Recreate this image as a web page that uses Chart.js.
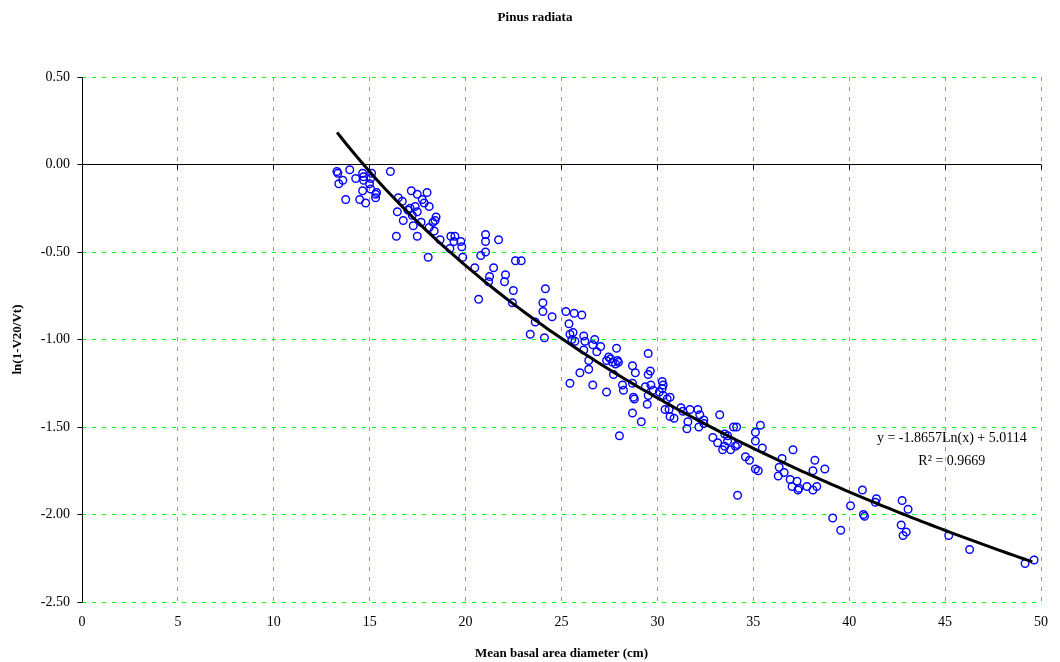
<!DOCTYPE html>
<html>
<head>
<meta charset="utf-8">
<script src="https://cdn.jsdelivr.net/npm/chart.js@4"></script>
<style>
  html, body { margin: 0; padding: 0; background: #fff; }
  canvas { display: block; }
</style>
</head>
<body>
<canvas id="myChart" width="1060" height="662"></canvas>
<script>
// Mean basal area diameter (cm) and ln(1-V20/Vt)
var diameter = [
    13.29, 13.34, 13.96, 13.39, 13.6, 13.75, 14.27, 14.63, 14.68, 14.68,
    15.1, 15.05, 14.99, 14.63, 15.05, 15.36, 15.31, 15.31, 14.48, 14.79,
    16.08, 16.49, 16.7, 16.44, 16.75, 16.39, 17.17, 17.48, 17.99, 17.74,
    17.84, 18.1, 17.37, 17.11, 17.48, 17.22, 18.46, 18.41, 18.3, 17.68,
    17.27, 18.1, 18.36, 17.48, 18.67, 19.23, 19.44, 19.39, 19.75, 19.8,
    19.18, 19.85, 18.05, 21.04, 21.04, 21.72, 21.04, 20.79, 20.48, 21.46,
    22.08, 21.25, 21.2, 22.03, 22.6, 22.9, 22.49, 20.68, 22.44, 24.16,
    24.03, 24.03, 24.51, 23.63, 23.37, 24.11, 25.23, 25.66, 26.06, 25.39,
    25.44, 25.6, 25.54, 25.7, 26.16, 26.22, 26.16, 26.73, 26.63, 27.04,
    26.84, 26.42, 26.42, 25.96, 25.44, 26.63, 27.35, 27.87, 27.46, 27.56,
    27.35, 27.66, 27.92, 27.97, 27.82, 27.71, 28.7, 28.85, 29.52, 29.63,
    29.52, 28.18, 28.23, 28.7, 28.75, 28.8, 28.7, 29.16, 28.02, 29.47,
    29.37, 29.78, 29.52, 30.25, 30.3, 30.25, 30.66, 30.51, 30.4, 30.61,
    30.66, 30.87, 31.23, 31.33, 31.7, 32.11, 32.21, 32.42, 32.42, 31.59,
    31.54, 32.16, 33.25, 32.89, 33.14, 33.51, 33.66, 33.66, 33.51, 33.4,
    33.82, 34.07, 34.18, 33.97, 34.13, 35.11, 35.37, 35.11, 35.47, 34.59,
    34.8, 34.18, 35.11, 35.26, 36.5, 36.35, 36.61, 36.3, 37.07, 36.92,
    37.02, 37.28, 37.33, 37.38, 37.8, 38.11, 38.31, 38.21, 38.11, 38.73,
    40.69, 40.07, 39.14, 40.74, 40.8, 39.56, 41.42, 41.36, 42.76, 43.07,
    42.71, 42.97, 42.81, 45.19, 46.28, 49.17, 49.64, 16.99, 29.66, 30.1,
    30.3
];
var lnRatio = [
    -0.04, -0.05, -0.03, -0.11, -0.09, -0.20, -0.08, -0.05, -0.07, -0.09,
    -0.05, -0.08, -0.11, -0.15, -0.14, -0.16, -0.17, -0.19, -0.20, -0.22,
    -0.04, -0.19, -0.21, -0.27, -0.32, -0.41, -0.15, -0.17, -0.16, -0.20,
    -0.22, -0.24, -0.24, -0.25, -0.27, -0.29, -0.30, -0.32, -0.33, -0.33,
    -0.35, -0.36, -0.38, -0.41, -0.43, -0.41, -0.41, -0.44, -0.44, -0.47,
    -0.48, -0.53, -0.53, -0.40, -0.44, -0.43, -0.50, -0.52, -0.59, -0.59,
    -0.63, -0.64, -0.67, -0.67, -0.55, -0.55, -0.72, -0.77, -0.79, -0.71,
    -0.79, -0.84, -0.87, -0.90, -0.97, -0.99, -0.84, -0.85, -0.86, -0.91,
    -0.97, -0.96, -1.00, -1.01, -0.98, -1.01, -1.06, -1.00, -1.03, -1.04,
    -1.07, -1.12, -1.17, -1.19, -1.25, -1.26, -1.30, -1.05, -1.10, -1.11,
    -1.12, -1.13, -1.12, -1.13, -1.14, -1.20, -1.15, -1.19, -1.08, -1.18,
    -1.20, -1.26, -1.29, -1.25, -1.33, -1.34, -1.42, -1.47, -1.55, -1.37,
    -1.27, -1.29, -1.32, -1.24, -1.26, -1.28, -1.33, -1.34, -1.40, -1.40,
    -1.44, -1.45, -1.39, -1.41, -1.40, -1.40, -1.43, -1.46, -1.48, -1.47,
    -1.51, -1.50, -1.43, -1.56, -1.59, -1.54, -1.55, -1.58, -1.61, -1.63,
    -1.63, -1.61, -1.60, -1.50, -1.50, -1.53, -1.49, -1.58, -1.62, -1.67,
    -1.69, -1.89, -1.74, -1.75, -1.68, -1.73, -1.76, -1.78, -1.63, -1.80,
    -1.84, -1.81, -1.86, -1.85, -1.84, -1.86, -1.84, -1.69, -1.75, -1.74,
    -1.86, -1.95, -2.02, -2.00, -2.01, -2.09, -1.91, -1.93, -1.92, -1.97,
    -2.06, -2.10, -2.12, -2.12, -2.20, -2.28, -2.26, -0.26, -1.26, -1.30,
    -1.32
];

var xTicks = [0, 5, 10, 15, 20, 25, 30, 35, 40, 45, 50];
var yTicks = [-2.5, -2.0, -1.5, -1.0, -0.5, 0.0, 0.5];

// logarithmic trendline as printed on the chart
var trendSlope = -1.8657;
var trendIntercept = 5.0114;
var trendR2 = 0.9669;
var trendFrom = 13.3;
var trendTo = 49.6;

var serif = "'Liberation Serif', 'Times New Roman', serif";

window.onload = function () {
    var scatterPoints = diameter.map(function (d, i) {
        return { x: d, y: lnRatio[i] };
    });

    var trendPoints = [];
    for (var x = trendFrom; x <= trendTo + 1e-9; x += 0.25) {
        trendPoints.push({ x: x, y: trendSlope * Math.log(x) + trendIntercept });
    }

    // same rounding Chart.js uses for 1px lines
    function crisp(p) {
        return Math.round(p - 0.5) + 0.5;
    }

    // black axis lines: y axis at x = 0 and x axis at y = 0 with small tick marks
    var axisLines = {
        id: 'axisLines',
        beforeDatasetsDraw: function (chart) {
            var c = chart.ctx;
            var area = chart.chartArea;
            var xs = chart.scales.x, ys = chart.scales.y;
            var y0 = crisp(ys.getPixelForValue(0));
            var x0 = crisp(xs.getPixelForValue(0));
            c.save();
            c.strokeStyle = '#000';
            c.lineWidth = 1;
            c.setLineDash([]);
            c.beginPath();
            c.moveTo(area.left, y0);
            c.lineTo(area.right, y0);
            c.moveTo(x0, area.top);
            c.lineTo(x0, area.bottom);
            xTicks.forEach(function (t) {
                var px = crisp(xs.getPixelForValue(t));
                c.moveTo(px, y0);
                c.lineTo(px, y0 + 5);
            });
            yTicks.forEach(function (t) {
                var py = crisp(ys.getPixelForValue(t));
                c.moveTo(x0 - 5, py);
                c.lineTo(x0, py);
            });
            c.stroke();
            c.restore();
        }
    };

    var equationLabel = {
        id: 'equationLabel',
        afterDatasetsDraw: function (chart) {
            var c = chart.ctx;
            var xs = chart.scales.x, ys = chart.scales.y;
            var cx = xs.getPixelForValue(45.35);
            c.save();
            c.fillStyle = '#000';
            c.font = '14px ' + serif;
            c.textAlign = 'center';
            c.textBaseline = 'middle';
            c.fillText('y = ' + trendSlope + 'Ln(x) + ' + trendIntercept, cx, ys.getPixelForValue(-1.563));
            c.fillText('R\u00B2 = ' + trendR2, cx, ys.getPixelForValue(-1.694));
            c.restore();
        }
    };

    var ctx = document.getElementById('myChart').getContext('2d');
    var myChart = new Chart(ctx, {
        type: 'scatter',
        data: {
            datasets: [{
                type: 'line',
                label: 'Log. trend',
                data: trendPoints,
                borderColor: '#000',
                borderWidth: 3,
                pointRadius: 0,
                fill: false,
                tension: 0
            },
            {
                label: 'Pinus radiata',
                data: scatterPoints,
                pointStyle: 'circle',
                pointRadius: 3.8,
                borderWidth: 1.4,
                borderColor: '#0000ff',
                backgroundColor: 'rgba(0,0,0,0)'
            }]
        },
        options: {
            responsive: false,
            animation: false,
            layout: {
                padding: { top: 0, right: 11, bottom: 0, left: 21 }
            },
            plugins: {
                legend: { display: false },
                tooltip: { enabled: false },
                title: {
                    display: true,
                    text: 'Pinus radiata',
                    color: '#000',
                    font: { family: serif, size: 13, weight: 'bold' },
                    padding: { top: 10, bottom: 51.4 }
                }
            },
            scales: {
                x: {
                    type: 'linear',
                    min: 0,
                    max: 50,
                    afterBuildTicks: function (scale) {
                        scale.ticks = xTicks.map(function (v) { return { value: v }; });
                    },
                    afterFit: function (scale) {
                        scale.height = 60;
                    },
                    ticks: {
                        color: '#000',
                        font: { family: serif, size: 14 },
                        padding: 12,
                        maxRotation: 0
                    },
                    grid: {
                        drawTicks: false,
                        color: '#00ff00',
                        lineWidth: 1
                    },
                    border: {
                        display: false,
                        dash: [4, 6]
                    },
                    title: {
                        display: true,
                        text: 'Mean basal area diameter (cm)',
                        color: '#000',
                        font: { family: serif, size: 13, weight: 'bold' },
                        padding: { top: 0, bottom: 1 }
                    }
                },
                y: {
                    type: 'linear',
                    min: -2.5,
                    max: 0.5,
                    afterBuildTicks: function (scale) {
                        scale.ticks = yTicks.map(function (v) { return { value: v }; });
                    },
                    afterFit: function (scale) {
                        scale.width = 61;
                    },
                    ticks: {
                        color: '#000',
                        font: { family: serif, size: 14 },
                        padding: 12,
                        callback: function (v) { return Number(v).toFixed(2); }
                    },
                    grid: {
                        drawTicks: false,
                        color: '#00ff00',
                        lineWidth: 1
                    },
                    border: {
                        display: false,
                        dash: [4, 6]
                    },
                    title: {
                        display: true,
                        text: 'ln(1-V20/Vt)',
                        color: '#000',
                        font: { family: serif, size: 13, weight: 'bold' },
                        padding: { top: -11, bottom: 0 }
                    }
                }
            }
        },
        plugins: [axisLines, equationLabel]
    });
};
</script>
</body>
</html>
